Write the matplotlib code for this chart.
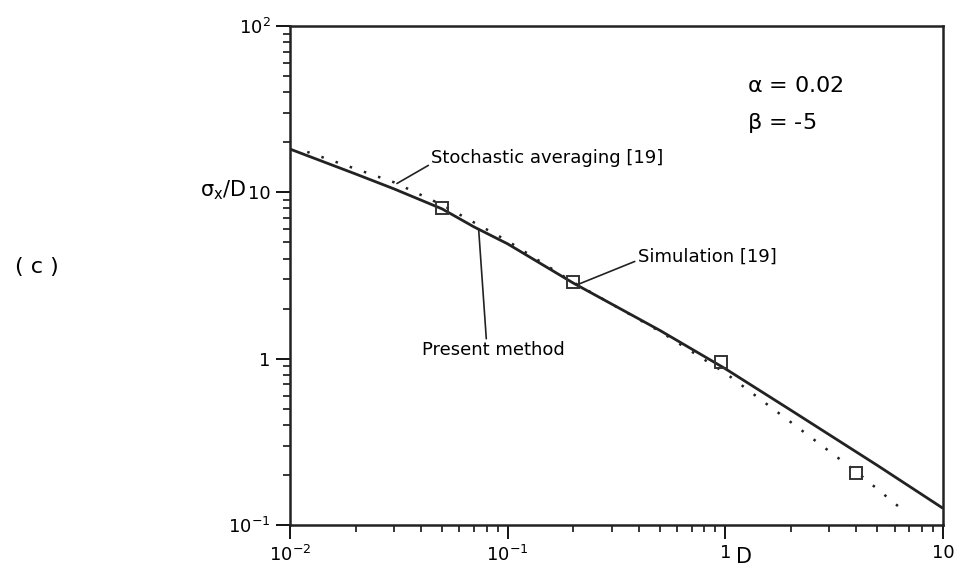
import numpy as np
import matplotlib
matplotlib.use("Agg")
import matplotlib.pyplot as plt
from matplotlib.ticker import LogLocator, FixedLocator, FixedFormatter, NullFormatter

plt.rcParams['font.family'] = ['DejaVu Sans']
plt.rcParams['mathtext.default'] = 'regular'

# present method (solid curve)
D_present = [0.01, 0.02, 0.03, 0.05, 0.07, 0.1, 0.2, 0.5, 1.0, 2.0, 5.0, 10.0]
sig_present = [18.2, 12.9, 10.5, 7.95, 6.2, 4.9, 2.85, 1.48, 0.87, 0.49, 0.228, 0.126]

# stochastic averaging [19] (dotted curve)
D_stoch = [0.012, 0.03, 0.05, 0.1, 0.2, 0.5, 1.0, 2.0, 4.0, 6.3]
sig_stoch = [17.5, 11.5, 8.4, 5.1, 2.88, 1.46, 0.82, 0.415, 0.209, 0.128]

# simulation [19] (square markers)
D_sim = [0.05, 0.2, 0.96, 4.0]
sig_sim = [8.0, 2.9, 0.96, 0.206]

x_ticks = [0.01, 0.1, 1, 10]
x_labels = ['$10^{-2}$', '$10^{-1}$', '1', '10']
y_ticks = [0.1, 1, 10, 100]
y_labels = ['$10^{-1}$', '1', '10', '$10^{2}$']

fig = plt.figure(figsize=(9.64, 5.78), dpi=100)
ax = fig.add_axes([290 / 964, 1 - 525 / 578, 653 / 964, 499 / 578])

ax.plot(D_present, sig_present, color='#222222', linewidth=2.0, solid_capstyle='butt')
ax.plot(D_stoch, sig_stoch, color='#222222', linewidth=1.8, linestyle=(0, (1, 5)))
ax.plot(D_sim, sig_sim, linestyle='none', marker='s', markersize=9,
        markerfacecolor='none', markeredgecolor='#333333', markeredgewidth=1.4)

ax.set_xscale('log')
ax.set_yscale('log')
ax.set_xlim(0.01, 10)
ax.set_ylim(0.1, 100)

ax.xaxis.set_major_locator(FixedLocator(x_ticks))
ax.xaxis.set_major_formatter(FixedFormatter(x_labels))
ax.yaxis.set_major_locator(FixedLocator(y_ticks))
ax.yaxis.set_major_formatter(FixedFormatter(y_labels))
ax.xaxis.set_minor_locator(LogLocator(base=10, subs=np.arange(2, 10)))
ax.yaxis.set_minor_locator(LogLocator(base=10, subs=np.arange(2, 10)))
ax.xaxis.set_minor_formatter(NullFormatter())
ax.yaxis.set_minor_formatter(NullFormatter())

ax.tick_params(which='major', direction='out', length=10, width=1.3, labelsize=13, pad=4,
               top=False, right=False)
ax.tick_params(which='minor', direction='out', length=5, width=1.1, top=False, right=False)
for sp in ax.spines.values():
    sp.set_linewidth(1.8)
    sp.set_color('#222222')

ax.xaxis.set_label_text('D', fontsize=15)
ax.xaxis.set_label_coords(0.695, -0.045)

# y axis label sits just left of the "10" tick label
fig.text(200 / 964, 1 - 190 / 578, r'$\sigma_x$/D', fontsize=15, ha='left', va='center')
fig.text(15 / 964, 1 - 267 / 578, '( c )', fontsize=16, ha='left', va='center')

ax.text(0.70, 0.88, r'$\alpha$ = 0.02', transform=ax.transAxes, fontsize=16, ha='left', va='center')
ax.text(0.70, 0.805, r'$\beta$ = -5', transform=ax.transAxes, fontsize=16, ha='left', va='center')

# leader lines start at the left end of each label
lead = dict(arrowstyle='-', color='#222222', lw=1.2, shrinkA=0, shrinkB=0)
ax.annotate('Stochastic averaging [19]', xy=(0.031, 11.3), xytext=(0.0445, 16.0),
            fontsize=13, ha='left', va='center', arrowprops=dict(lead, relpos=(0, 0.2)))
ax.annotate('Simulation [19]', xy=(0.214, 2.82), xytext=(0.395, 4.1),
            fontsize=13, ha='left', va='center', arrowprops=dict(lead, relpos=(0, 0.3)))
ax.annotate('Present method', xy=(0.0736, 5.95), xytext=(0.0862, 1.12),
            fontsize=13, ha='center', va='center',
            arrowprops=dict(lead, relpos=(0.45, 1.0), shrinkA=0))

fig.savefig('out.png', dpi=100)
